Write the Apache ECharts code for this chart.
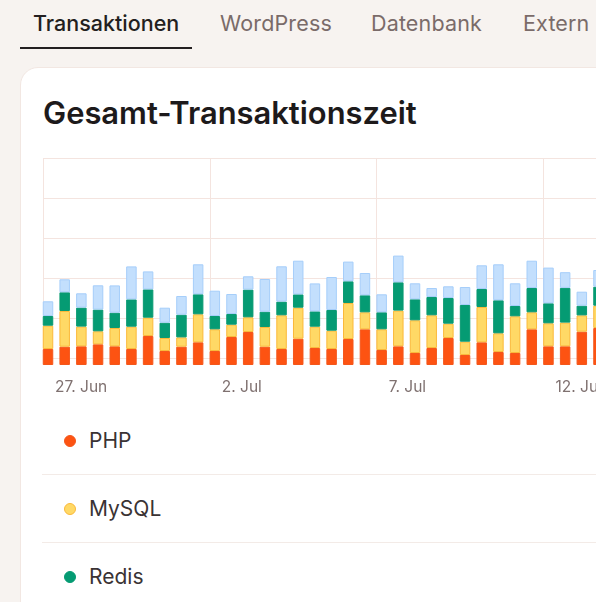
<!DOCTYPE html>
<html><head><meta charset="utf-8">
<script src="https://cdn.jsdelivr.net/npm/echarts@6/dist/echarts.min.js"></script>
<style>
html,body{margin:0;padding:0;width:596px;height:602px;overflow:hidden;background:#f7f3f0;font-family:Inter,sans-serif}
.tab{position:absolute;top:8.5px;font-size:21.5px;font-weight:400;letter-spacing:.15px;line-height:28px;color:#7a6b69;white-space:nowrap}
#underline{position:absolute;left:20px;top:47px;width:172px;height:2px;background:#231f20}
#card{position:absolute;left:20px;top:67px;width:800px;height:700px;background:#fff;border:1px solid #f2e7e2;border-radius:18px;box-sizing:border-box}
h1{position:absolute;left:43px;top:92.5px;margin:0;font-size:30.9px;line-height:40px;font-weight:600;color:#1d1a1b;white-space:nowrap}
#chart{position:absolute;left:0;top:140px;width:780px;height:260px}
.row{position:absolute;left:89px;font-size:21px;line-height:28px;color:#3a3334;white-space:nowrap}
.dot{position:absolute;left:64px;width:12px;height:12px;border-radius:50%;box-sizing:border-box}
.sep{position:absolute;left:42px;width:600px;height:1px;background:#f3ebe7}
</style></head><body>
<div class="tab" style="left:33px;color:#231f20;font-weight:500;letter-spacing:0">Transaktionen</div>
<div class="tab" style="left:220px">WordPress</div>
<div class="tab" style="left:371px">Datenbank</div>
<div class="tab" style="left:523px">Extern</div>
<div id="underline"></div>
<div id="card"></div>
<h1>Gesamt-Transaktionszeit</h1>
<div id="chart"></div>
<div class="dot" style="top:435px;background:#fd5312;border:1px solid #f4571c"></div>
<div class="row" style="top:427px">PHP</div>
<div class="sep" style="top:474px"></div>
<div class="dot" style="top:503px;background:#ffd966;border:1px solid #fbb93a"></div>
<div class="row" style="top:495px">MySQL</div>
<div class="sep" style="top:542px"></div>
<div class="dot" style="top:571px;background:#059b73;border:1px solid #059b73"></div>
<div class="row" style="top:563px">Redis</div>
<script>
const tickLabels = ['27. Jun', '2. Jul', '7. Jul', '12. Jul', '17. Jul'];
const php = [16,18.3,18.7,20.7,18.7,16,29,14,18.3,22.7,14,28,33,18.3,16,26.3,17,16,26,35.7,15,18.7,12,17,27,10,22.7,13,12,35.7,18.7,18.7,33.3,37];
const mysql = [23.3,35.7,19.7,13,18.3,22.3,18.3,13,9.3,28,21.7,12.3,14.7,19.7,33.7,31,21.3,18.3,36,17,20.7,35.7,32.7,32.7,14.3,13.3,35.3,18.7,36.7,17,23,23.7,16.3,22.3];
const redis = [9.7,18.7,19,21.7,15.3,27.3,28.3,15.3,22.7,20,13.3,10.7,27.7,15.3,13.7,13.3,15.3,20.7,21.7,17,17,28.3,21,18.3,25.7,36.7,18,33,10.3,24.3,20,34.7,9.7,19];
const other = [14.7,13,14.3,24.3,27.3,33,18,15,18.7,30,25.3,20,13.3,32.7,35.3,33.7,28,33,19.7,22.3,18,26.7,16,9,11.7,18,23.7,36,22.7,27.3,35.7,15.7,14,16.7];
const gridValues = [7,47,87,127,167,207];
const barShift = 0.3, perTick = 10;

const chart = echarts.init(document.getElementById('chart'), null, {renderer:'canvas'});
const mk = (name, values, fill, stroke) => ({
  name, type:'bar', stack:'t', barWidth:10.5, silent:true, clip:false,
  dimensions:['amount','slot'], encode:{x:'slot', y:'amount'},
  data: values.map((v,i)=>[v, i+barShift]),
  itemStyle:{color:fill, borderColor:stroke, borderWidth:1}
});
const gridColor = '#f4e4df';
chart.setOption({
  animation:false,
  grid:{left:43, right:0, top:18, bottom:35, containLabel:false},
  xAxis:{type:'value', min:0, max:44, interval:perTick,
    axisLine:{show:false}, axisTick:{show:false},
    splitLine:{show:true, lineStyle:{color:gridColor, width:1}},
    axisLabel:{show:true, color:'#7f7170', fontSize:15.5, fontFamily:'Inter', margin:14, align:'left', padding:[0,0,0,12], showMinLabel:true,
      formatter:v=>tickLabels[v/perTick]||''}},
  yAxis:{type:'value', min:0, max:207,
    axisLine:{show:false}, axisLabel:{show:false},
    axisTick:{show:false, customValues:gridValues},
    splitLine:{show:true, lineStyle:{color:gridColor, width:1}}},
  series:[
    mk('PHP', php, '#fd5312', '#f4571c'),
    mk('MySQL', mysql, '#ffd966', '#fbb93a'),
    mk('Redis', redis, '#059b73', '#0a9a72'),
    mk('Andere', other, '#c3dffd', '#a6cefa')
  ]
});
</script>
</body></html>
